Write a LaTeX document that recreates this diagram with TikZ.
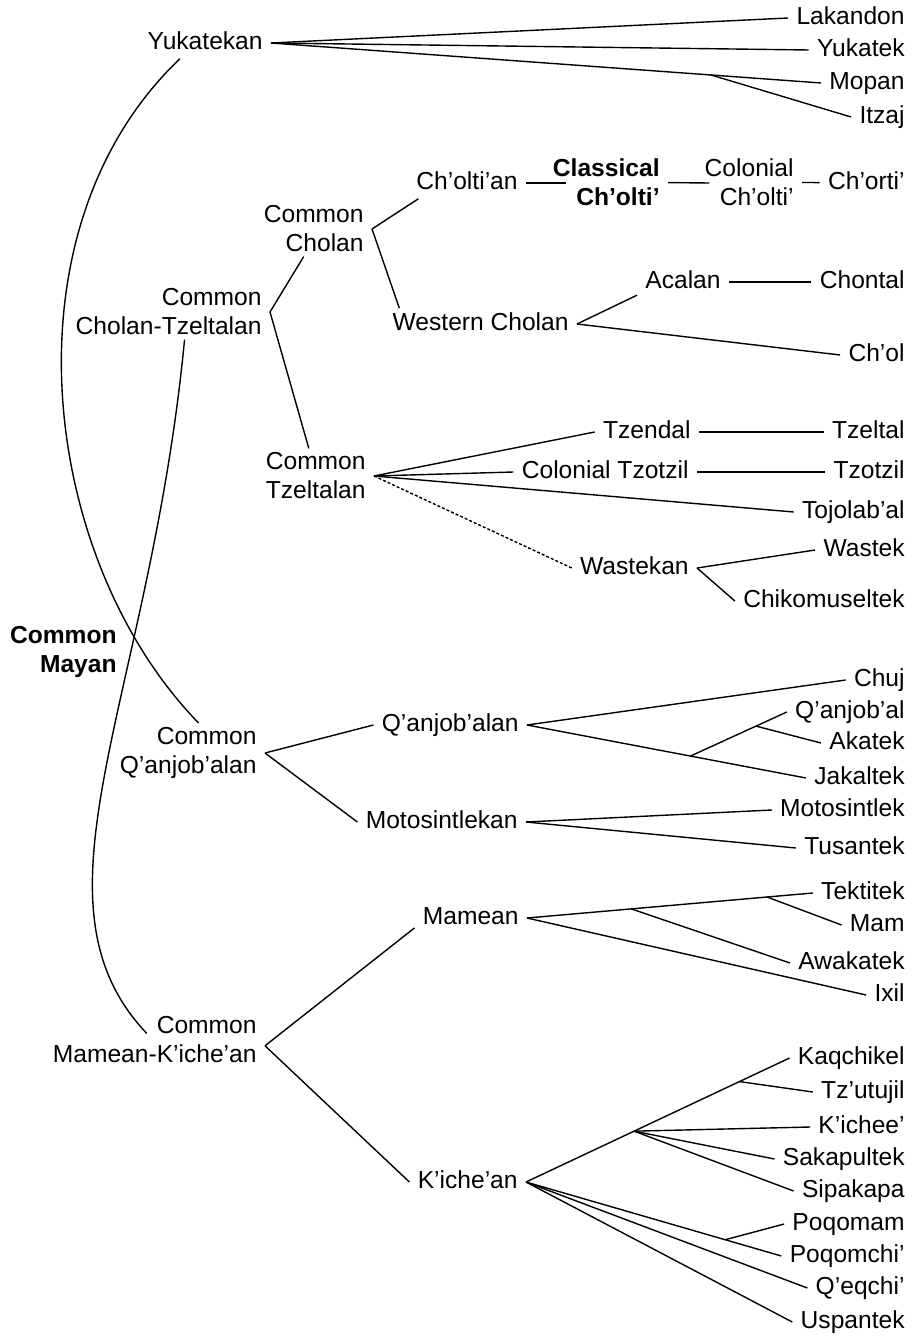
\documentclass[tikz,border=0pt]{standalone}
\usepackage{fontspec}
\setmainfont{Liberation Sans}

\begin{document}
\begin{tikzpicture}[
  x=0.5pt,y=-0.5pt,
  font=\fontsize{12.3}{14.5}\selectfont,
  lang/.style={anchor=east,inner xsep=4pt,inner ysep=2pt,
               text height=8.8pt,text depth=2.6pt},
  group/.style={anchor=east,inner xsep=4pt,inner ysep=2pt,align=right},
  proto/.style={group,font=\fontsize{12.3}{14.5}\selectfont\bfseries},
  link/.style={line width=0.7pt},
  dotlink/.style={link,dash pattern=on 1.5pt off 1pt}]
\useasboundingbox (0,0) rectangle (912,1336);

% --- proto-languages and subgroups ---
\node[proto] (cma) at (125,652) {Common\\Mayan};
\node[lang]  (yuk) at (271,43)  {Yukatekan};
\node[group] (cct) at (270,312) {Common\\Cholan-Tzeltalan};
\node[group] (cch) at (372,229) {Common\\Cholan};
\node[lang]  (chn) at (526,183) {Ch'olti'an};
\node[proto] (ccl) at (668,182) {Classical\\Ch'olti'};
\node[group] (col) at (802,182) {Colonial\\Ch'olti'};
\node[lang]  (wch) at (577,324) {Western Cholan};
\node[lang]  (aca) at (729,282) {Acalan};
\node[group] (ctz) at (374,476) {Common\\Tzeltalan};
\node[lang]  (tzd) at (699,432) {Tzendal};
\node[lang]  (ctt) at (697,472) {Colonial Tzotzil};
\node[lang]  (wsk) at (697,568) {Wastekan};
\node[group] (cqa) at (265,753) {Common\\Q'anjob'alan};
\node[lang]  (qnb) at (527,725) {Q'anjob'alan};
\node[lang]  (mtk) at (526,822) {Motosintlekan};
\node[group] (cmk) at (265,1040) {Common\\Mamean-K'iche'an};
\node[lang]  (mmn) at (527,918) {Mamean};
\node[lang]  (kic) at (526,1182) {K'iche'an};

% --- present-day languages, right column ---
\foreach \n/\y/\t in {lak/18/Lakandon, ykt/50/Yukatek, mop/83/Mopan, itz/117/Itzaj,
    cho/183/Ch'orti', chl/282/Chontal, chol/355/Ch'ol,
    tze/432/Tzeltal, tzo/472/Tzotzil, toj/512/Tojolab'al,
    was/550/Wastek, chk/601/Chikomuseltek,
    chu/680/Chuj, qan/712/Q'anjob'al, aka/743/Akatek, jak/778/Jakaltek,
    mot/810/Motosintlek, tus/848/Tusantek,
    tek/893/Tektitek, mam/925/Mam, awa/963/Awakatek, ixl/995/Ixil,
    kaq/1058/Kaqchikel, tzu/1092/Tz'utujil, kch/1127/K'ichee',
    sak/1159/Sakapultek, sip/1191/Sipakapa, pqm/1224/Poqomam,
    pqc/1256/Poqomchi', qeq/1288/Q'eqchi', usp/1322/Uspantek}
  \node[lang] (\n) at (913,\y) {\t};

% --- the two long curves through Common Mayan ---
\draw[link] (yuk.212) .. controls (0,230) and (40,560) .. (cqa.71);
\draw[link] (cct.-60) .. controls (150,700) and (20,900) .. ([shift={(-8,21)}]cmk.north);

% --- Yukatekan ---
\draw[link] (yuk.east) -- (lak.west);
\draw[link] (yuk.east) -- (ykt.west);
\draw[link] (yuk.east) -- (mop.west) coordinate[pos=0.8] (ym);
\draw[link] (ym) -- (itz.west);

% --- Cholan-Tzeltalan ---
\draw[link] (cct.east) -- (cch.250);
\draw[link] (cct.east) -- (ctz.104);
\draw[link] (cch.east) -- (chn.198);
\draw[link] (cch.east) -- (wch.169);
\draw[link] (chn) -- ([shift={(21,1)}]ccl.west);   % runs in under the bold label
\draw[link] (ccl) -- ([shift={(13,1)}]col.west);
\draw[link] (col) -- (cho);
\draw[link] (wch.east) -- (aca.196);
\draw[link] (aca) -- (chl);
\draw[link] (wch.east) -- (chol.west);
\foreach \l in {tzd,ctt,toj}
  \draw[link] (ctz.east) -- (\l.west);
\draw[dotlink] (ctz.east) -- (wsk.west);
\draw[link] (tzd) -- (tze);
\draw[link] (ctt) -- (tzo);
\draw[link] (wsk.east) -- (was.west);
\draw[link] (wsk.east) -- (chk.west);

% --- Q'anjob'alan ---
\draw[link] (cqa.east) -- (qnb.west);
\draw[link] (cqa.east) -- (mtk.west);
\draw[link] (qnb.east) -- (chu.west);
\draw[link] (qnb.east) -- (jak.west) coordinate[pos=0.586] (qj);
\draw[link] (qj) -- (qan.west) coordinate[pos=0.68] (qa);
\draw[link] (qa) -- (aka.west);
\draw[link] (mtk.east) -- (mot.west);
\draw[link] (mtk.east) -- (tus.west);

% --- Mamean-K'iche'an ---
\draw[link] (cmk.-3) -- (mmn.190);
\draw[link] (cmk.-3) -- (kic.west);
\draw[link] (mmn.east) -- (tek.west) coordinate[pos=0.365] (m1) coordinate[pos=0.84] (m2);
\draw[link] (m1) -- (awa.west);
\draw[link] (m2) -- (mam.west);
\draw[link] (mmn.east) -- (ixl.west);
\draw[link] (kic.east) -- (kaq.west) coordinate[pos=0.41] (k1) coordinate[pos=0.81] (k2);
\draw[link] (k2) -- (tzu.west);
\foreach \l in {kch,sak,sip}
  \draw[link] (k1) -- (\l.west);
\draw[link] (kic.east) -- (pqc.west) coordinate[pos=0.78] (k3);
\draw[link] (k3) -- (pqm.west);
\draw[link] (kic.east) -- (qeq.west);
\draw[link] (kic.east) -- (usp.west);

\end{tikzpicture}
\end{document}
